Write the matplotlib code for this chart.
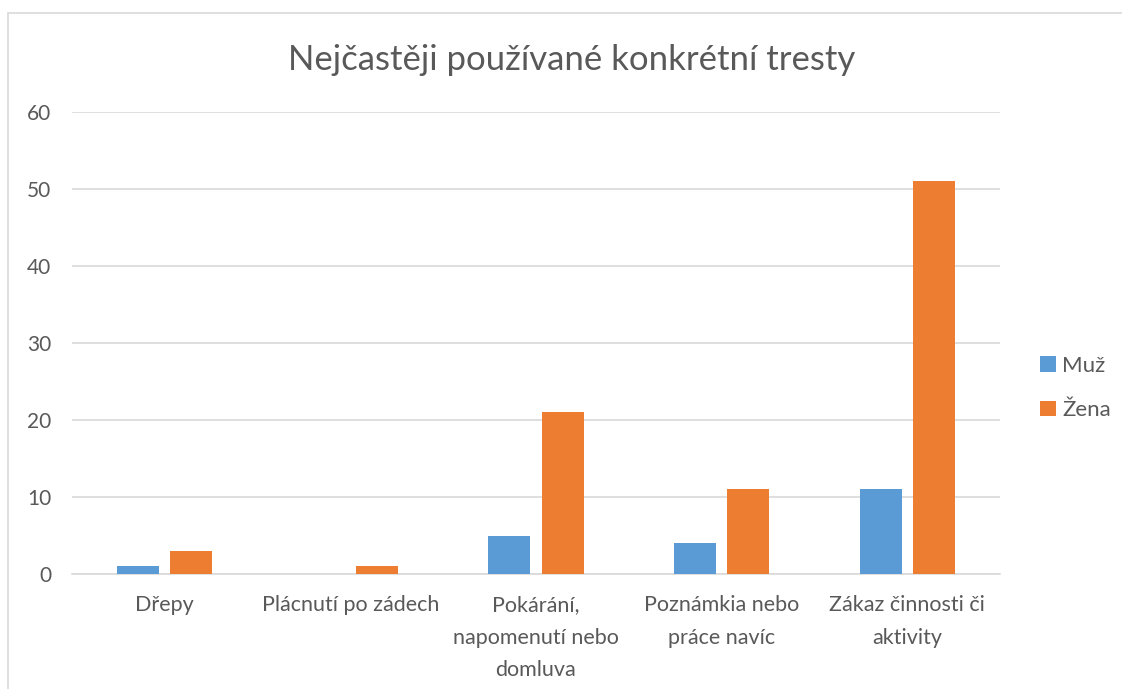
import numpy as np
import matplotlib.pyplot as plt
from matplotlib.patches import Rectangle

# data
categories = ["Dřepy", "Plácnutí po zádech", "Pokárání,\nnapomenutí nebo\ndomluva",
              "Poznámkia nebo\npráce navíc", "Zákaz činnosti či\naktivity"]
muz = [1, 0, 5, 4, 11]
zena = [3, 1, 21, 11, 51]
series_names = ["Muž", "Žena"]
yticks = [0, 10, 20, 30, 40, 50, 60]

blue = "#5B9BD5"
orange = "#ED7D31"
txt = "#595959"
grid = "#D9D9D9"

plt.rcParams['font.family'] = ['Lato', 'DejaVu Sans']

W, H = 1122, 689
fig = plt.figure(figsize=(W / 100, H / 100), dpi=100)

# chart area border (cropped on right/bottom)
fig.patches.append(Rectangle((8 / W, -0.1), 1.2, 1 - 13 / H + 0.1, transform=fig.transFigure,
                             fill=False, edgecolor=grid, linewidth=1.2))

ax = fig.add_axes([72 / W, 1 - 574 / H, (1000 - 72) / W, (574 - 112) / H])
x = np.arange(len(categories))
bw = 0.226
gap = 0.06
ax.bar(x - (bw + gap) / 2, muz, width=bw, color=blue, label=series_names[0], zorder=3)
ax.bar(x + (bw + gap) / 2, zena, width=bw, color=orange, label=series_names[1], zorder=3)

ax.set_xlim(-0.5, len(categories) - 0.5)
ax.set_ylim(0, 60)
ax.set_yticks(yticks)
ax.yaxis.grid(True, color=grid, linewidth=1.2, zorder=0)
for s in ["top", "right", "left"]:
    ax.spines[s].set_visible(False)
ax.spines["bottom"].set_color(grid)
ax.spines["bottom"].set_linewidth(1.2)
ax.tick_params(axis="y", length=0, labelsize=15, colors=txt, pad=15)
ax.tick_params(axis="x", length=0, labelsize=15.5, colors=txt, pad=15)
ax.set_xticks(x)
ax.set_xticklabels(categories, linespacing=1.8, va="top")

fig.text(572 / W, 1 - 60 / H, "Nejčastěji používané konkrétní tresty", ha="center", va="center",
         fontsize=25, color=txt)

leg = fig.legend(loc="center left", bbox_to_anchor=(1020 / W, 1 - 388 / H), frameon=False,
                 fontsize=16, labelcolor=txt, handlelength=0.7, handleheight=0.7,
                 handletextpad=0.3, labelspacing=1.1)

fig.savefig("out.png", dpi=100)
